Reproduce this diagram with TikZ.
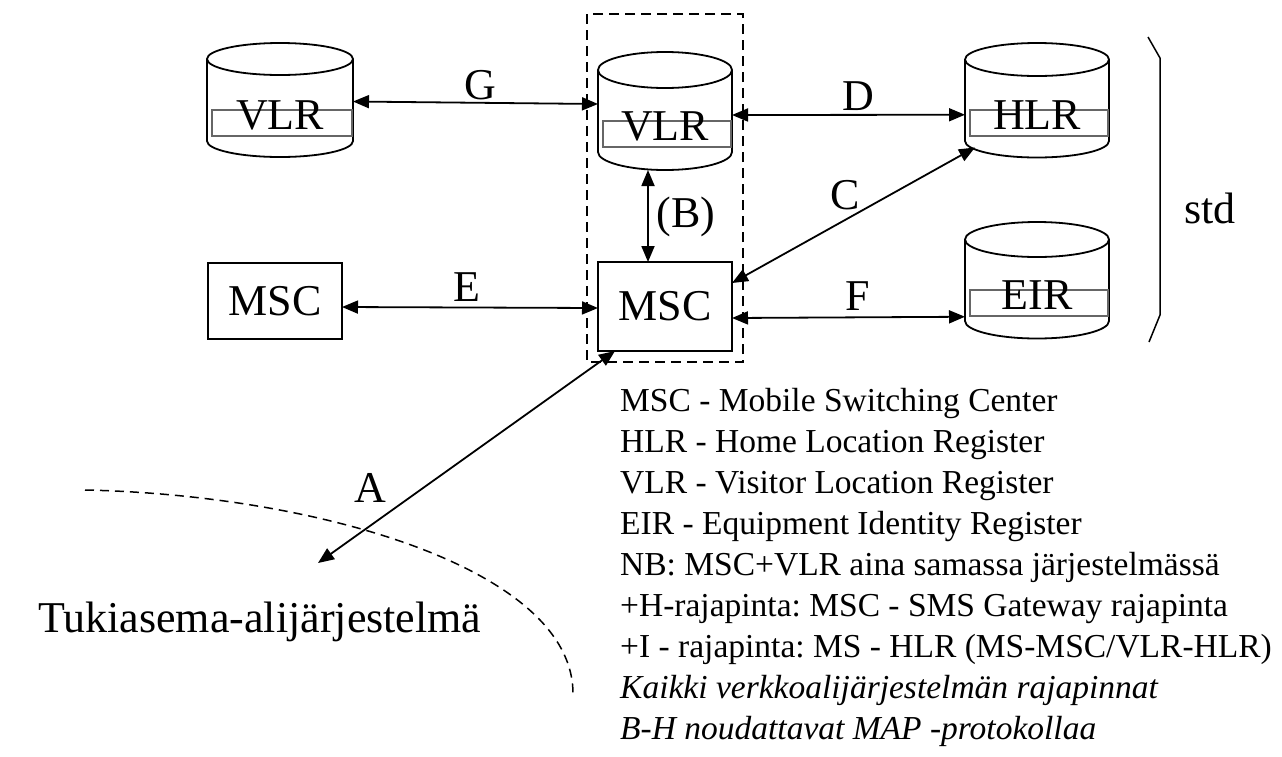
\documentclass[tikz,border=0pt]{standalone}
\usepackage{fontspec}
\setmainfont{Liberation Serif}
\usetikzlibrary{arrows.meta,calc}
\frenchspacing
\newcommand\bigf{\fontsize{44}{50}\selectfont}
\newcommand\legf{\fontsize{33.5}{41}\selectfont}
% #1 name, #2 cx, #3 top-ellipse y, #4 bottom-ellipse y, #5 rx, #6 ry, #7 text
\newcommand\dbcyl[7]{%
  \draw[shapeline] (#2,#3) ellipse [x radius=#5, y radius=#6];
  \draw[shapeline] (#2-#5,#3) -- (#2-#5,#4) arc[start angle=180, end angle=0, x radius=#5, y radius=#6] -- (#2+#5,#3);
  \draw[innerrect] (#2-#5+5,#4-31) rectangle (#2+#5-1,#4-5);
  \node[draw=none, inner sep=0, outer sep=0, minimum width={2*#5*1pt}, minimum height={(#4-#3+2*#6)*1pt}] (#1) at (#2,{(#3+#4)/2}) {};
  \node[bigtext] (#1-t) at (#2,#4-26) {#7};
}
\begin{document}
\begin{tikzpicture}[x=1pt,y=-1pt,
  shapeline/.style={line width=1.8pt, black},
  innerrect/.style={line width=1.2pt, black!60},
  box/.style={draw, line width=1.8pt, inner sep=0, outer sep=0, font=\bigf},
  bigtext/.style={inner sep=0, font=\bigf},
  legtext/.style={inner sep=0, anchor=base west, font=\legf},
  conn/.style={line width=1.8pt, {Triangle[length=16pt,width=13pt]}-{Triangle[length=16pt,width=13pt]}},
  dashbox/.style={line width=1.8pt, dash pattern=on 10pt off 6pt},
  dashcurve/.style={line width=1.5pt, dash pattern=on 9pt off 6pt},
  brace/.style={line width=1.5pt}
]
\useasboundingbox (0,0) rectangle (1282,756);

% dashed MSC+VLR frame
\draw[dashbox] (587,14) rectangle (743,362);

% databases
\dbcyl{vlrL}{280}{59}{141}{73}{16}{VLR}
\dbcyl{vlrM}{665}{70}{152}{67}{18}{VLR}
\dbcyl{hlr}{1037}{59.5}{141}{72}{16.5}{HLR}
\dbcyl{eir}{1037}{239.5}{321}{72}{17.5}{EIR}

% switching centres
\node[box, minimum width=134pt, minimum height=76pt] (mscL) at (275,301) {MSC};
\node[box, minimum width=134pt, minimum height=89pt] (mscM) at (665,306.5) {MSC};

\coordinate (bss) at (318,563);

% connectors
\draw[conn] ([yshift=-1.5pt]vlrL.east) -- ([yshift=7pt]vlrM.west);
\draw[conn] ([yshift=-4pt]vlrM.east) -- ([yshift=-14.5pt]hlr.west);
\draw[conn] ([xshift=-17pt]vlrM.south) -- ([xshift=-17pt]mscM.north);
\draw[conn] ([yshift=23.5pt]mscM.east) -- ([xshift=-62pt,yshift=10pt]hlr.south);
\draw[conn] ([yshift=-6pt]mscL.east) -- ([yshift=-1.5pt]mscM.west);
\draw[conn] ([yshift=-11.5pt]mscM.east) -- ([yshift=-36.5pt]eir.west);
\draw[conn] ([xshift=-50pt]mscM.south) -- (bss);

% connector labels
\node[bigtext] (lG) at (480,85) {G};
\node[bigtext] (lD) at (858,96) {D};
\node[bigtext] (lC) at (845,195) {C};
\node[bigtext] (lB) at (686,217) {(B)};
\node[bigtext] (lE) at (467,287) {E};
\node[bigtext] (lF) at (858,296) {F};
\node[bigtext] (lA) at (370,488) {A};

% std bracket
\draw[brace] (1148,37) -- (1160,58) -- (1160,315) -- (1149,342);
\node[bigtext] (lstd) at (1210,208) {std};

% base station subsystem boundary
\draw[dashcurve] (85,490) .. controls (320,495) and (575,570) .. (573,695);
\node[inner sep=0, anchor=base west, font=\bigf] (bsstext) at (38,632) {Tukiasema-alijärjestelmä};

% legend
\node[legtext] (leg1) at (620,411) {MSC - Mobile Switching Center};
\node[legtext] (leg2) at (620,452) {HLR - Home Location Register};
\node[legtext] (leg3) at (620,493) {VLR - Visitor Location Register};
\node[legtext] (leg4) at (620,534) {EIR - Equipment Identity Register};
\node[legtext] (leg5) at (620,575) {NB: MSC+VLR aina samassa järjestelmässä};
\node[legtext] (leg6) at (620,616) {+H-rajapinta: MSC - SMS Gateway rajapinta};
\node[legtext] (leg7) at (620,657) {+I - rajapinta: MS - HLR (MS-MSC/VLR-HLR)};
\node[legtext, font=\legf\itshape] (leg8) at (620,698) {Kaikki verkkoalijärjestelmän rajapinnat};
\node[legtext, font=\legf\itshape] (leg9) at (620,739) {B-H noudattavat MAP -protokollaa};
\end{tikzpicture}
\end{document}
